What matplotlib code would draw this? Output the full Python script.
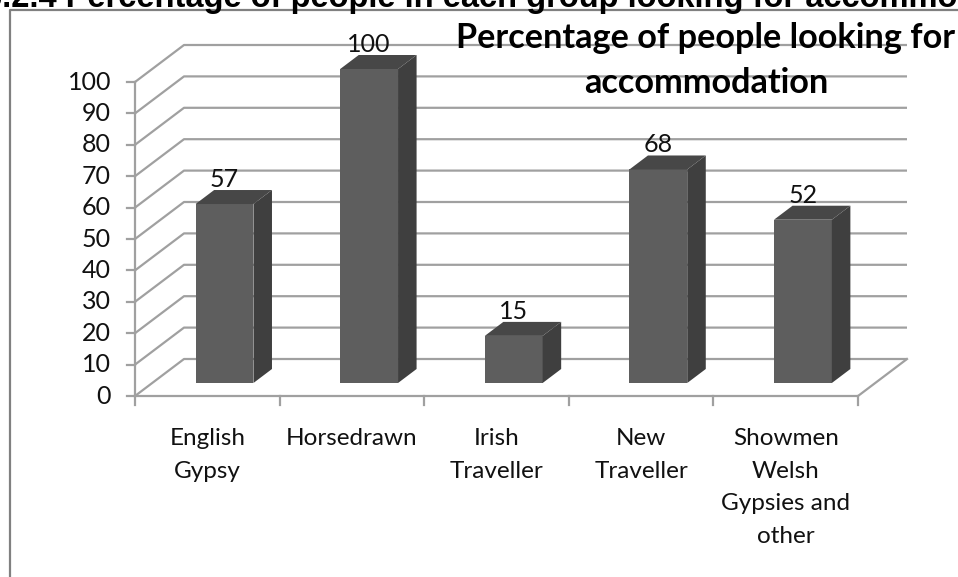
import matplotlib
matplotlib.use("Agg")
import matplotlib.pyplot as plt
from matplotlib.patches import Polygon
from matplotlib.lines import Line2D

# ---- data ----
categories = ["English\nGypsy", "Horsedrawn", "Irish\nTraveller", "New\nTraveller",
              "Showmen\nWelsh\nGypsies and\nother"]
values = [57, 100, 15, 68, 52]
yticks = [0, 10, 20, 30, 40, 50, 60, 70, 80, 90, 100]
page_title = "6.2.4 Percentage of people in each group looking for accommodation"
chart_title = "Percentage of people looking for\naccommodation"

# ---- layout ----
W, H = 958, 577
fig = plt.figure(figsize=(W / 100, H / 100), dpi=100)
ax = fig.add_axes([0, 0, 1, 1])
PX0, PW, PY0, PH = 135, 144.6, 396, 3.14   # pixel origin and scale
ax.set_xlim((0 - PX0) / PW, (W - PX0) / PW)
ax.set_ylim((PY0 - H) / PH, (PY0 - 0) / PH)
ax.axis("off")

KX = 49 / PW   # depth offset (category units)
KY = 37 / PH   # depth offset (value units)
n = len(values)
vmax = yticks[-1]

GRID = "#a0a0a0"
LW = 1.6
FONT = ["Lato", "DejaVu Sans"]

# walls: side-wall diagonals and back-wall gridlines
for t in yticks:
    ax.plot([0, KX, n + KX], [t, t + KY, t + KY], color=GRID, lw=LW,
            solid_capstyle="butt", zorder=1)
# floor edges
ax.plot([0, n, n + KX], [0, 0, KY], color=GRID, lw=LW, zorder=1)
# front value axis
ax.plot([0, 0], [0, vmax], color=GRID, lw=LW, zorder=2)
for t in yticks:
    ax.plot([-8 / PW, 0], [t, t], color=GRID, lw=LW, zorder=2)
    ax.text(-24 / PW, t, str(t), ha="right", va="center", fontsize=18,
            family=FONT, color="#111111")
# category ticks
for i in range(n + 1):
    ax.plot([i, i], [0, -9 / PH], color=GRID, lw=LW, zorder=2)

# bars
BW = 0.4
D0, D1 = 13 / 37, 27 / 37
FRONT, SIDE, TOP = "#5e5e5e", "#3f3f3f", "#474747"
for i, v in enumerate(values):
    x0 = i + 0.5 - BW / 2 + D0 * KX
    x1 = x0 + BW
    y0 = D0 * KY
    y1 = v + D0 * KY
    dx = (D1 - D0) * KX
    dy = (D1 - D0) * KY
    ax.add_patch(Polygon([(x0, y0), (x1, y0), (x1, y1), (x0, y1)],
                         closed=True, fc=FRONT, ec="none", zorder=5))
    ax.add_patch(Polygon([(x1, y0), (x1 + dx, y0 + dy), (x1 + dx, y1 + dy), (x1, y1)],
                         closed=True, fc=SIDE, ec="none", zorder=5))
    ax.add_patch(Polygon([(x0, y1), (x1, y1), (x1 + dx, y1 + dy), (x0 + dx, y1 + dy)],
                         closed=True, fc=TOP, ec="none", zorder=5))
    ax.text((x0 + x1) / 2, y1 + dy + 3 / PH, str(v), ha="center", va="baseline",
            fontsize=18, family=FONT, color="#111111", zorder=6)

# category labels
for i, c in enumerate(categories):
    ax.text(i + 0.5, (PY0 - 428) / PH, c, ha="center", va="top", fontsize=17.5,
            family=FONT, color="#111111", linespacing=1.68, multialignment="center")

# chart title
ax.text((706 - PX0) / PW, (PY0 - 60) / PH, chart_title, ha="center", va="center",
        fontsize=24.7, fontweight="bold", family=FONT, color="#000000",
        linespacing=1.5, multialignment="center", zorder=7)

# chart border
fig.add_artist(Line2D([10 / W, 10 / W, 1.0], [0.0, 1 - 10 / H, 1 - 10 / H],
                      color="#808080", lw=1.6))

# page title (cut off at top): place so that "...accommo" ends at x=957
TFONT = ["Liberation Sans", "DejaVu Sans"]
renderer = fig.canvas.get_renderer()
probe = fig.text(0, 0, page_title[: page_title.index("accommodation") + 7],
                 fontsize=23.5, fontweight="bold", family=TFONT)
wpx = probe.get_window_extent(renderer).width
probe.remove()
fig.text((957 - wpx) / W, 1 - 6.5 / H, page_title, ha="left", va="baseline",
         fontsize=23.5, fontweight="bold", family=TFONT, color="#000000")

fig.savefig("out.png", dpi=100)
